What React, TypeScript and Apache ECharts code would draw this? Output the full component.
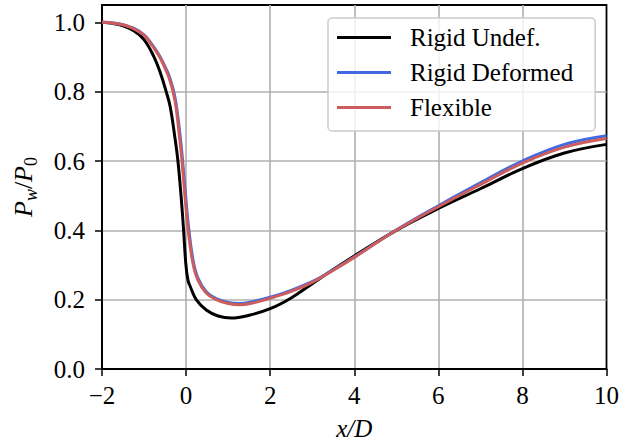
import React, { useEffect, useRef } from 'react';
import * as echarts from 'echarts';

const FONT = "'Liberation Serif', 'Times New Roman', serif";

// Rigid Undef. (black)
const xUndef = [-2, -1.75, -1.5, -1.25, -1.006, -0.769, -0.611, -0.473, -0.379, -0.258, -0.194, -0.118, -0.059, -0.007, 0.043, 0.099, 0.241, 0.48, 0.76, 1.07, 1.5, 2.0, 2.5, 3.0, 3.5, 4.0, 5.0, 6.0, 7.0, 8.0, 9.0, 10.0];
const yUndef = [1.0, 0.997, 0.990, 0.976, 0.951, 0.902, 0.854, 0.800, 0.757, 0.661, 0.600, 0.497, 0.400, 0.305, 0.257, 0.238, 0.200, 0.170, 0.153, 0.147, 0.155, 0.174, 0.205, 0.246, 0.287, 0.326, 0.400, 0.463, 0.520, 0.578, 0.623, 0.648];

// Rigid Deformed (blue) and Flexible (red) share x positions
const xFlex = [-2, -1.75, -1.5, -1.25, -1.0, -0.864, -0.639, -0.45, -0.391, -0.31, -0.241, -0.149, -0.097, -0.026, 0.05, 0.163, 0.279, 0.478, 0.715, 1.0, 1.27, 1.5, 2.0, 2.5, 3.0, 3.5, 4.0, 5.0, 6.0, 7.0, 8.0, 9.0, 10.0];
const yDeformed = [1.0, 0.998, 0.993, 0.983, 0.964, 0.945, 0.905, 0.859, 0.841, 0.808, 0.768, 0.680, 0.620, 0.520, 0.420, 0.316, 0.263, 0.223, 0.203, 0.192, 0.189, 0.192, 0.207, 0.227, 0.252, 0.286, 0.323, 0.401, 0.471, 0.537, 0.600, 0.648, 0.673];
const yFlexible = [1.0, 0.998, 0.993, 0.982, 0.963, 0.943, 0.902, 0.854, 0.835, 0.800, 0.757, 0.661, 0.600, 0.497, 0.400, 0.305, 0.257, 0.219, 0.200, 0.189, 0.185, 0.188, 0.204, 0.224, 0.250, 0.285, 0.322, 0.400, 0.468, 0.532, 0.594, 0.640, 0.665];

const seriesNames = ['Rigid Undef.', 'Rigid Deformed', 'Flexible'];
const seriesColors = ['#000000', '#4169E1', '#CD5C5C'];
const yTicks = [0, 0.2, 0.4, 0.6, 0.8, 1.0];

export default function App() {
  const ref = useRef<HTMLDivElement>(null);
  useEffect(() => {
    const chart = echarts.init(ref.current!, null, { renderer: 'svg' });
    const pairs = (xs: number[], ys: number[]) => xs.map((x, i) => [x, ys[i]]);
    const dataSets = [pairs(xUndef, yUndef), pairs(xFlex, yDeformed), pairs(xFlex, yFlexible)];
    chart.setOption({
      animation: false,
      backgroundColor: '#ffffff',
      textStyle: { fontFamily: FONT },
      grid: {
        left: 102, right: 13, top: 5, bottom: 79, containLabel: false,
        show: true, borderColor: '#000', borderWidth: 1.8, backgroundColor: 'transparent',
      },
      legend: {
        left: 328, top: 18, orient: 'vertical',
        icon: 'rect', itemWidth: 54, itemHeight: 3, itemGap: 10,
        padding: [7, 22, 11, 9],
        backgroundColor: 'rgba(255,255,255,0.8)',
        borderColor: '#cccccc', borderWidth: 1.5, borderRadius: 4,
        textStyle: { fontFamily: FONT, fontSize: 25, color: '#000', padding: [0, 0, 0, 14] },
        data: seriesNames,
      },
      xAxis: {
        type: 'value', min: -2, max: 10, interval: 2,
        name: 'x/D', nameLocation: 'middle', nameGap: 47,
        nameTextStyle: { fontFamily: FONT, fontSize: 25, fontStyle: 'italic', color: '#000' },
        axisLine: { show: true, onZero: false, lineStyle: { color: '#000', width: 1.8 } },
        axisTick: { show: true, length: 7, lineStyle: { color: '#000', width: 1.5 } },
        axisLabel: {
          fontFamily: FONT, fontSize: 25, color: '#000', margin: 14,
          formatter: (v: number) => (v < 0 ? '\u2212' + Math.abs(v) : String(v)),
        },
        splitLine: { show: true, showMinLine: false, showMaxLine: false, lineStyle: { color: '#b0b0b0', width: 1.6 } },
      },
      yAxis: {
        type: 'value', min: 0, max: 1.05, interval: 0.2,
        name: '{i|P}{sw|w}{n|/}{i|P}{s0|0}', nameLocation: 'middle', nameGap: 62, nameRotate: 90,
        nameTextStyle: {
          color: '#000', fontFamily: FONT, fontSize: 25,
          rich: {
            i: { fontStyle: 'italic', fontSize: 26, fontFamily: FONT, color: '#000' },
            n: { fontSize: 26, fontFamily: FONT, color: '#000' },
            sw: { fontStyle: 'italic', fontSize: 18, fontFamily: FONT, color: '#000', padding: [16, 0, 0, 0] },
            s0: { fontSize: 18, fontFamily: FONT, color: '#000', padding: [16, 0, 0, 0] },
          },
        },
        axisLine: { show: true, onZero: false, lineStyle: { color: '#000', width: 1.8 } },
        axisTick: { show: true, length: 7, customValues: yTicks, lineStyle: { color: '#000', width: 1.5 } },
        axisLabel: {
          fontFamily: FONT, fontSize: 25, color: '#000', margin: 17, customValues: yTicks,
          formatter: (v: number) => (v > 1.001 ? '' : v.toFixed(1)),
        },
        splitLine: { show: true, showMinLine: false, showMaxLine: false, lineStyle: { color: '#b0b0b0', width: 1.6 } },
      },
      series: seriesNames.map((name, k) => ({
        name, type: 'line', data: dataSets[k],
        showSymbol: false, symbol: 'none',
        smooth: 0.4,
        lineStyle: { color: seriesColors[k], width: 3 },
        itemStyle: { color: seriesColors[k] },
        z: 2 + k,
      })),
    });
    return () => chart.dispose();
  }, []);
  return <div ref={ref} style={{ position: 'fixed', left: 0, top: 0, width: 622, height: 448 }} />;
}
